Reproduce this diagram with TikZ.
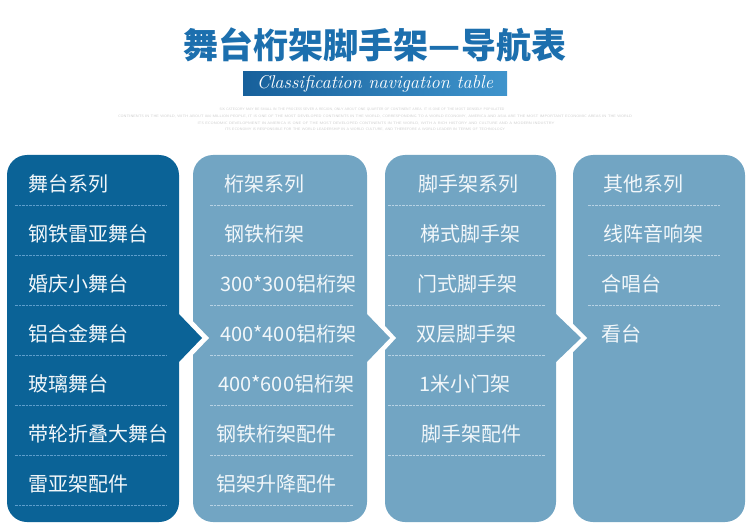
\documentclass[tikz,border=0pt]{standalone}
\usepackage{fontspec}
\newfontfamily\cjk{Noto Sans CJK SC}
\usepackage{graphicx}
\usetikzlibrary{positioning}
\definecolor{stageBlue}{HTML}{0B6397}
\definecolor{paleBlue}{HTML}{72A5C3}
\definecolor{titleBlue}{HTML}{1C6FAE}
\definecolor{bannerDark}{HTML}{17609B}
\definecolor{bannerLight}{HTML}{3F94CC}
\definecolor{fineGray}{HTML}{CACACA}
\definecolor{sepDark}{HTML}{5E9ECC}
\definecolor{sepPale}{HTML}{B7D2E4}
\definecolor{itemText}{HTML}{F2F7FA}

\begin{document}
\begin{tikzpicture}[
        x=1pt, y=-1pt,
        colDark/.style={fill=stageBlue, rounded corners=20pt},
        colPale/.style={fill=paleBlue, rounded corners=20pt},
        item/.style={anchor=west, inner sep=0pt, text=itemText, font=\cjk\fontsize{20}{20}\selectfont},
        fine/.style={inner sep=0pt, text=fineGray, font=\sffamily},
        sepLine/.style={dash pattern=on 2.5pt off 1pt, line width=0.6pt}
    ]
        \useasboundingbox (0,0) rectangle (750,524);

        % Title
        \node[inner sep=0pt, text=titleBlue, font=\cjk\bfseries\fontsize{35}{35}\selectfont] (title) at (375,45) {舞台桁架脚手架—导航表};
        \shade[left color=bannerDark, right color=bannerLight] (243,72) rectangle (507,96);
        \node[inner sep=0pt, text=white, font=\itshape\fontsize{18.5}{18.5}\selectfont] (subtitle) at (375,84) {Classification navigation table};

        % Fine print
        \node[fine] (note1) at (362,109) {\resizebox{285pt}{2.5pt}{SIX CATEGORY MAY BE SMALL IN THE PROCESS SEVER A REGION, ONLY ABOUT ONE QUARTER OF CONTINENT AREA. IT IS ONE OF THE MOST DENSELY POPULATED}};
        \node[fine] (note2) at (375,116) {\resizebox{514pt}{2.5pt}{CONTINENTS IN THE WORLD, WITH ABOUT 800 MILLION PEOPLE, IT IS ONE OF THE MOST DEVELOPED CONTINENTS IN THE WORLD, CORRESPONDING TO A WORLD ECONOMY, AMERICA AND ASIA ARE THE MOST IMPORTANT ECONOMIC AREAS IN THE WORLD}};
        \node[fine] (note3) at (376,123) {\resizebox{357pt}{2.5pt}{ITS ECONOMIC DEVELOPMENT IN AMERICA IS ONE OF THE MOST DEVELOPED CONTINENTS IN THE WORLD, WITH A RICH HISTORY AND CULTURE AND A MODERN INDUSTRY}};
        \node[fine] (note4) at (365,129) {\resizebox{280pt}{2.5pt}{ITS ECONOMY IS RESPONSIBLE FOR THE WORLD LEADERSHIP IN A WORLD CULTURE, AND THEREFORE A WORLD LEADER IN TERMS OF TECHNOLOGY}};

        % Columns
        \fill[colDark] (7,155) rectangle (179,522);
        \fill[colPale] (193,155) rectangle (367,522);
        \fill[colPale] (385,155) rectangle (556,522);
        \fill[colPale] (573,155) rectangle (745,522);

        % Notches and arrows
        \fill[white] (185,313) -- (209,338) -- (185,363) -- cycle;
        \fill[white] (373,313) -- (396,338) -- (373,363) -- cycle;
        \fill[white] (562,313) -- (587,338) -- (562,363) -- cycle;
        \fill[stageBlue] (178,313) -- (202,338) -- (178,363) -- cycle;
        \fill[paleBlue] (366,313) -- (390,338) -- (366,363) -- cycle;
        \fill[paleBlue] (555,313) -- (581,338) -- (555,363) -- cycle;

        % Separators
        \draw[sepLine, sepDark] (15,205) -- (167,205);
        \draw[sepLine, sepDark] (15,255) -- (167,255);
        \draw[sepLine, sepDark] (15,305) -- (167,305);
        \draw[sepLine, sepDark] (15,355) -- (167,355);
        \draw[sepLine, sepDark] (15,405) -- (167,405);
        \draw[sepLine, sepDark] (15,455) -- (167,455);
        \draw[sepLine, sepDark] (15,505) -- (167,505);

        \draw[sepLine, sepPale] (210,205) -- (353,205);
        \draw[sepLine, sepPale] (210,255) -- (353,255);
        \draw[sepLine, sepPale] (210,305) -- (353,305);
        \draw[sepLine, sepPale] (210,355) -- (353,355);
        \draw[sepLine, sepPale] (210,405) -- (353,405);
        \draw[sepLine, sepPale] (210,455) -- (353,455);
        \draw[sepLine, sepPale] (210,505) -- (353,505);

        \draw[sepLine, sepPale] (388,205) -- (545,205);
        \draw[sepLine, sepPale] (388,255) -- (545,255);
        \draw[sepLine, sepPale] (388,305) -- (545,305);
        \draw[sepLine, sepPale] (388,355) -- (545,355);
        \draw[sepLine, sepPale] (388,405) -- (545,405);
        \draw[sepLine, sepPale] (388,455) -- (545,455);

        \draw[sepLine, sepPale] (588,205) -- (720,205);
        \draw[sepLine, sepPale] (588,255) -- (720,255);
        \draw[sepLine, sepPale] (588,305) -- (720,305);

        % Stage column
        \node[item] (stageHead) at (28,184) {舞台系列};
        \node[item] (stage1) at (28,234) {钢铁雷亚舞台};
        \node[item] (stage2) at (28,284) {婚庆小舞台};
        \node[item] (stage3) at (28,334) {铝合金舞台};
        \node[item] (stage4) at (28,384) {玻璃舞台};
        \node[item] (stage5) at (28,434) {带轮折叠大舞台};
        \node[item] (stage6) at (28,484) {雷亚架配件};

        % Truss column
        \node[item] (trussHead) at (224,184) {桁架系列};
        \node[item] (truss1) at (224,234) {钢铁桁架};
        \node[item] (truss2) at (220,284) {300*300铝桁架};
        \node[item] (truss3) at (220,334) {400*400铝桁架};
        \node[item] (truss4) at (218,384) {400*600铝桁架};
        \node[item] (truss5) at (216,434) {钢铁桁架配件};
        \node[item] (truss6) at (216,484) {铝架升降配件};

        % Scaffold column
        \node[item] (scaffHead) at (418,184) {脚手架系列};
        \node[item] (scaff1) at (420,234) {梯式脚手架};
        \node[item] (scaff2) at (417,284) {门式脚手架};
        \node[item] (scaff3) at (416,334) {双层脚手架};
        \node[item] (scaff4) at (419,384) {1米小门架};
        \node[item] (scaff5) at (421,434) {脚手架配件};

        % Other column
        \node[item] (otherHead) at (603,184) {其他系列};
        \node[item] (other1) at (603,234) {线阵音响架};
        \node[item] (other2) at (601,284) {合唱台};
        \node[item] (other3) at (601,334) {看台};
    \end{tikzpicture}
\end{document}
